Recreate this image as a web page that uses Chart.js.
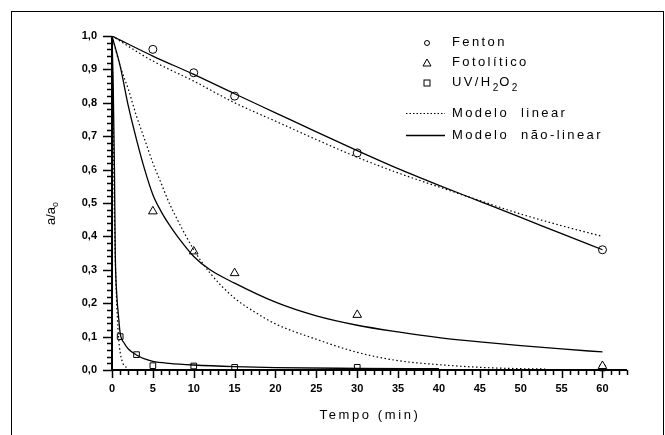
<!DOCTYPE html>
<html>
<head>
<meta charset="utf-8">
<script src="https://cdn.jsdelivr.net/npm/chart.js@4"></script>
<style>
  body { margin: 0; background: #fff; }
  #wrap { position: relative; width: 665px; height: 435px; overflow: hidden; font-family: 'Liberation Sans', Arial, sans-serif; color: #000; }
  #chart { position: absolute; left: 0; top: 0; }
  #frame { position: absolute; left: 11px; top: 11px; width: 653px; height: 440px; box-sizing: border-box; border: 1px solid #000; }
  .lg { position: absolute; font-size: 13px; letter-spacing: 2.4px; line-height: 14px; white-space: nowrap; }
  .lg sub { font-size: 10px; vertical-align: -5px; letter-spacing: 1px; }
  .mk { position: absolute; }
  #xtitle { position: absolute; left: 0; width: 740px; top: 407px; text-align: center; font-size: 13px; letter-spacing: 2.6px; }
  #ytitle { position: absolute; left: 40px; top: 205px; font-size: 13px; transform: rotate(-90deg); transform-origin: center; white-space: nowrap; }
  #ytitle sub { font-size: 9px; vertical-align: -3px; }
</style>
</head>
<body>
<div id="wrap">
  <canvas id="chart" width="665" height="435"></canvas>
  <div id="frame"></div>
  <div id="xtitle">Tempo (min)</div>
  <div id="ytitle">a/a<sub>o</sub></div>

  <svg class="mk" style="left:400px;top:30px" width="50" height="115">
    <circle cx="27" cy="13" r="2.5" fill="#fff" stroke="#000" stroke-width="1"/>
    <polygon points="23,36 31,36 27,29" fill="#fff" stroke="#000" stroke-width="1"/>
    <rect x="24" y="50" width="6" height="6" fill="#fff" stroke="#000" stroke-width="1"/>
    <line x1="6" y1="83.5" x2="45" y2="83.5" stroke="#000" stroke-width="1" stroke-dasharray="1.5 2"/>
    <line x1="6" y1="105.5" x2="45" y2="105.5" stroke="#000" stroke-width="1.3"/>
  </svg>
  <div class="lg" style="left:452px;top:35px">Fenton</div>
  <div class="lg" style="left:452px;top:55px">Fotolítico</div>
  <div class="lg" style="left:452px;top:75px">UV/H<sub>2</sub>O<sub>2</sub></div>
  <div class="lg" style="left:452px;top:106px">Modelo&nbsp; linear</div>
  <div class="lg" style="left:452px;top:128px">Modelo&nbsp; não-linear</div>
</div>
<script>
// ── Measured points ────────────────────────────────────
const sampleTimes = [5, 10, 15, 30, 60];
const fenton      = [0.96, 0.89, 0.82, 0.65, 0.36];
const fotolitico  = [0.475, 0.355, 0.29, 0.165, 0.012];
const uvTimes     = [1, 3, 5, 10, 15, 30, 60];
const uvH2O2      = [0.10, 0.046, 0.013, 0.012, 0.008, 0.008, 0.006];

// ── Model curves ───────────────────────────────────────
const fentonModelT   = [0, 5, 10, 15, 20, 25, 30, 35, 40, 45, 50, 55, 60];
const fentonLinear   = [1.0, 0.925, 0.865, 0.80, 0.745, 0.69, 0.637, 0.59, 0.548, 0.507, 0.467, 0.432, 0.40];
const fentonNonlin   = [1.0, 0.94, 0.885, 0.827, 0.77, 0.713, 0.657, 0.603, 0.553, 0.505, 0.457, 0.408, 0.36];

const fotoLinearT    = [0, 1, 2, 3, 4, 5, 6, 7, 8, 10, 12, 15, 17.5, 20, 25, 30, 35, 40, 45, 50, 53];
const fotoLinear     = [1.0, 0.91, 0.84, 0.76, 0.69, 0.62, 0.56, 0.50, 0.45, 0.36, 0.29, 0.215, 0.173, 0.138, 0.092, 0.053, 0.028, 0.016, 0.008, 0.004, 0.003];
const fotoNonlinT    = [0, 1, 2, 3, 4, 5, 6, 7, 8, 10, 12, 15, 20, 25, 30, 35, 40, 45, 50, 55, 60];
const fotoNonlin     = [1.0, 0.91, 0.79, 0.69, 0.60, 0.525, 0.475, 0.435, 0.40, 0.34, 0.30, 0.26, 0.203, 0.162, 0.134, 0.114, 0.097, 0.084, 0.073, 0.063, 0.054];

const uvLinearT      = [0, 0.1, 0.2, 0.3, 0.5, 0.8, 1.2, 2];
const uvLinear       = [1.0, 0.85, 0.65, 0.45, 0.25, 0.1, 0.03, 0.004];
const uvNonlinT      = [0, 0.15, 0.3, 0.4, 0.6, 0.8, 1, 1.5, 2, 3, 4, 5, 7, 10, 15, 20, 30, 40];
const uvNonlin       = [1.0, 0.85, 0.6, 0.35, 0.22, 0.16, 0.11, 0.08, 0.063, 0.045, 0.033, 0.026, 0.02, 0.015, 0.01, 0.007, 0.005, 0.004];

// ── Axis ticks ─────────────────────────────────────────
const X_MAX = 63, X_LABEL_MAX = 60, X_MAJOR = 5;
const Y_STEP = 0.02;

// ── Helpers ────────────────────────────────────────────
const pts = (xs, ys) => xs.map((x, i) => ({ x, y: ys[i] }));

const markers = (data, style, r) => ({
  data, showLine: false, pointStyle: style, pointRadius: r,
  pointBackgroundColor: '#fff', pointBorderColor: '#000', pointBorderWidth: 1, clip: false
});
const dotted = data => ({
  data, showLine: true, pointRadius: 0, borderColor: '#000', borderWidth: 1.2,
  borderDash: [1.5, 2.5], cubicInterpolationMode: 'monotone'
});
const solid = data => ({
  data, showLine: true, pointRadius: 0, borderColor: '#000', borderWidth: 1.3,
  cubicInterpolationMode: 'monotone'
});

// axis lines + major/minor ticks, drawn at the scale's own tick positions
const axesPlugin = {
  id: 'axes',
  afterDatasetsDraw(chart) {
    const { ctx, chartArea: a, scales: { x, y } } = chart;
    ctx.save();
    ctx.strokeStyle = '#000';
    ctx.lineWidth = 2;
    ctx.beginPath();
    ctx.moveTo(a.left, a.top); ctx.lineTo(a.left, a.bottom); ctx.lineTo(a.right, a.bottom);
    ctx.stroke();
    ctx.lineWidth = 1.5;
    ctx.beginPath();
    x.ticks.forEach(t => {
      const px = Math.round(x.getPixelForValue(t.value)) + 0.5;
      const major = Math.round(t.value) % X_MAJOR === 0;
      ctx.moveTo(px, a.bottom); ctx.lineTo(px, a.bottom + (major ? 8 : 5));
    });
    y.ticks.forEach(t => {
      const py = Math.round(y.getPixelForValue(t.value)) + 0.5;
      const major = Math.round(t.value * 100) % 10 === 0;
      ctx.moveTo(a.left, py); ctx.lineTo(a.left - (major ? 9 : 5), py);
    });
    ctx.stroke();
    ctx.restore();
  }
};

const tickFont = { family: "'Liberation Sans', Arial, sans-serif", size: 11, weight: 'bold' };

new Chart(document.getElementById('chart'), {
  type: 'scatter',
  data: {
    datasets: [
      dotted(pts(fentonModelT, fentonLinear)),
      solid(pts(fentonModelT, fentonNonlin)),
      dotted(pts(fotoLinearT, fotoLinear)),
      solid(pts(fotoNonlinT, fotoNonlin)),
      dotted(pts(uvLinearT, uvLinear)),
      solid(pts(uvNonlinT, uvNonlin)),
      markers(pts(sampleTimes, fenton), 'circle', 4),
      markers(pts(sampleTimes, fotolitico), 'triangle', 5),
      markers(pts(uvTimes, uvH2O2), 'rect', 4)
    ]
  },
  options: {
    responsive: false,
    animation: false,
    devicePixelRatio: 1,
    layout: { padding: { top: 36, right: 38, left: 0, bottom: 0 } },
    plugins: { legend: { display: false }, tooltip: { enabled: false } },
    scales: {
      x: {
        type: 'linear', min: 0, max: X_MAX,
        afterFit: s => { s.height = 65; },
        grid: { display: false, drawTicks: false },
        border: { display: false },
        ticks: {
          stepSize: 1, autoSkip: false, maxRotation: 0, padding: 12, color: '#000', font: tickFont,
          callback: v => (v % X_MAJOR === 0 && v <= X_LABEL_MAX) ? String(v) : ''
        }
      },
      y: {
        type: 'linear', min: 0, max: 1,
        afterFit: s => { s.width = 112; },
        grid: { display: false, drawTicks: false },
        border: { display: false },
        ticks: {
          stepSize: Y_STEP, autoSkip: false, padding: 15, color: '#000', font: tickFont,
          callback: v => Math.round(v * 100) % 10 === 0 ? v.toFixed(1).replace('.', ',') : ''
        }
      }
    }
  },
  plugins: [axesPlugin]
});
</script>
</body>
</html>
